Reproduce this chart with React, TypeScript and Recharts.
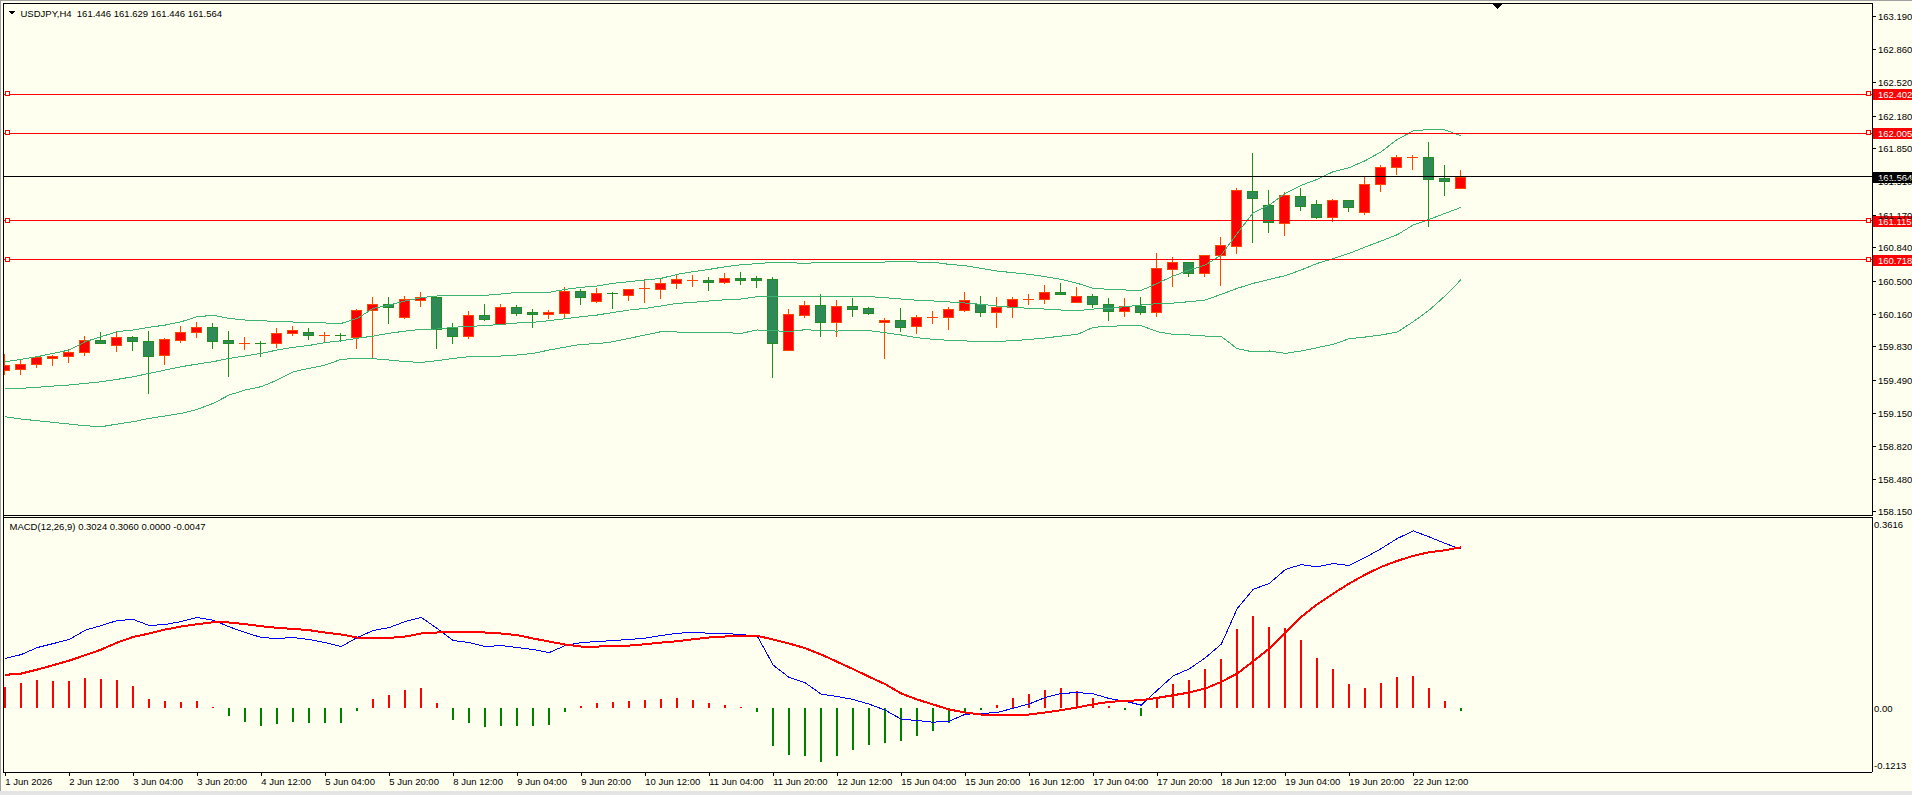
import React from 'react';
import { ComposedChart, Bar, Line, XAxis, YAxis, ReferenceLine, Cell } from 'recharts';

const FONT = '"Liberation Sans", Arial, sans-serif';
const BG = '#fffff0';

// USDJPY H4 bars, first bar = 1 Jun 2026 20:00
const opens = [
  159.595, 159.602, 159.653, 159.721, 159.734, 159.775, 159.901, 159.853, 159.931, 159.891,
  159.751, 159.904, 159.979, 160.033, 159.901, 159.867, 159.870, 159.867, 159.969, 159.982,
  159.945, 159.952, 159.935, 160.210, 160.267, 160.138, 160.311, 160.342, 160.020, 159.945,
  160.152, 160.060, 160.233, 160.186, 160.169, 160.179, 160.396, 160.301, 160.379, 160.362,
  160.417, 160.423, 160.478, 160.508, 160.508, 160.495, 160.529, 160.529, 160.518, 159.796,
  160.159, 160.254, 160.081, 160.247, 160.223, 160.087, 160.101, 160.040, 160.128, 160.131,
  160.210, 160.264, 160.189, 160.240, 160.311, 160.315, 160.386, 160.291, 160.345, 160.264,
  160.199, 160.244, 160.189, 160.620, 160.692, 160.586, 160.763, 160.861, 161.418, 161.272,
  161.096, 161.364, 161.282, 161.157, 161.323, 161.208, 161.486, 161.659, 161.757, 161.761,
  161.554, 161.446,
];
const highs = [
  159.758, 159.711, 159.738, 159.748, 159.806, 159.941, 159.982, 159.992, 159.945, 159.992,
  159.924, 160.043, 160.084, 160.074, 159.992, 159.928, 159.891, 160.023, 160.043, 160.023,
  159.982, 159.975, 160.220, 160.342, 160.342, 160.352, 160.390, 160.342, 160.077, 160.196,
  160.267, 160.267, 160.257, 160.216, 160.206, 160.440, 160.417, 160.430, 160.390, 160.417,
  160.522, 160.529, 160.559, 160.563, 160.542, 160.583, 160.593, 160.552, 160.542, 160.216,
  160.301, 160.369, 160.308, 160.328, 160.237, 160.125, 160.227, 160.155, 160.196, 160.237,
  160.389, 160.349, 160.339, 160.339, 160.369, 160.461, 160.485, 160.444, 160.369, 160.328,
  160.328, 160.339, 160.787, 160.746, 160.692, 160.763, 160.950, 161.445, 161.805, 161.428,
  161.408, 161.445, 161.326, 161.333, 161.323, 161.557, 161.683, 161.785, 161.785, 161.917,
  161.683, 161.629,
];
const lows = [
  159.555, 159.558, 159.629, 159.650, 159.680, 159.751, 159.874, 159.792, 159.799, 159.364,
  159.656, 159.884, 159.935, 159.819, 159.534, 159.809, 159.741, 159.833, 159.955, 159.911,
  159.880, 159.894, 159.819, 159.717, 160.077, 160.125, 160.250, 159.819, 159.870, 159.924,
  160.104, 160.060, 160.159, 160.037, 160.125, 160.135, 160.267, 160.291, 160.230, 160.308,
  160.288, 160.328, 160.430, 160.454, 160.410, 160.485, 160.474, 160.440, 159.527, 159.796,
  160.138, 159.941, 159.941, 160.145, 160.169, 159.717, 159.992, 159.972, 160.074, 160.016,
  160.196, 160.145, 160.036, 160.138, 160.271, 160.281, 160.372, 160.291, 160.240, 160.108,
  160.148, 160.169, 160.148, 160.451, 160.556, 160.556, 160.464, 160.790, 160.902, 161.004,
  160.973, 161.228, 161.146, 161.112, 161.218, 161.187, 161.421, 161.594, 161.642, 161.065,
  161.381, 161.446,
];
const closes = [
  159.646, 159.653, 159.728, 159.738, 159.779, 159.901, 159.874, 159.931, 159.887, 159.741,
  159.911, 159.982, 160.033, 159.894, 159.867, 159.870, 159.857, 159.972, 160.003, 159.948,
  159.948, 159.938, 160.203, 160.267, 160.233, 160.318, 160.335, 160.013, 159.945, 160.155,
  160.118, 160.233, 160.179, 160.169, 160.186, 160.396, 160.342, 160.376, 160.366, 160.417,
  160.427, 160.478, 160.518, 160.512, 160.495, 160.529, 160.515, 160.515, 159.874, 160.162,
  160.254, 160.081, 160.243, 160.220, 160.179, 160.104, 160.037, 160.132, 160.132, 160.213,
  160.305, 160.189, 160.240, 160.315, 160.315, 160.386, 160.372, 160.345, 160.264, 160.199,
  160.244, 160.189, 160.630, 160.692, 160.586, 160.763, 160.865, 161.425, 161.350, 161.099,
  161.374, 161.269, 161.157, 161.323, 161.258, 161.486, 161.659, 161.761, 161.761, 161.544,
  161.523, 161.564,
];

// Bollinger Bands (20)
const bbUpper = [
  159.680, 159.704, 159.731, 159.765, 159.799, 159.884, 159.935, 159.986, 160.003, 160.030,
  160.053, 160.087, 160.138, 160.152, 160.121, 160.104, 160.098, 160.087, 160.084, 160.077,
  160.074, 160.070, 160.121, 160.223, 160.257, 160.298, 160.332, 160.349, 160.352, 160.356,
  160.356, 160.369, 160.386, 160.386, 160.386, 160.417, 160.437, 160.451, 160.478, 160.495,
  160.512, 160.529, 160.569, 160.597, 160.620, 160.647, 160.668, 160.678, 160.692, 160.688,
  160.681, 160.692, 160.695, 160.695, 160.695, 160.695, 160.702, 160.695, 160.692, 160.671,
  160.658, 160.630, 160.603, 160.586, 160.569, 160.546, 160.518, 160.478, 160.427, 160.417,
  160.410, 160.406, 160.478, 160.552, 160.614, 160.664, 160.766, 160.987, 161.197, 161.275,
  161.394, 161.476, 161.537, 161.615, 161.656, 161.727, 161.818, 161.944, 162.029, 162.046,
  162.039, 161.978,
];
const bbMiddle = [
  159.402, 159.409, 159.419, 159.432, 159.443, 159.459, 159.476, 159.500, 159.527, 159.561,
  159.595, 159.629, 159.656, 159.680, 159.714, 159.738, 159.765, 159.799, 159.826, 159.846,
  159.874, 159.894, 159.918, 159.941, 159.969, 159.992, 160.009, 160.013, 160.030, 160.040,
  160.047, 160.060, 160.074, 160.081, 160.098, 160.118, 160.138, 160.155, 160.182, 160.206,
  160.223, 160.247, 160.274, 160.284, 160.298, 160.311, 160.318, 160.342, 160.342, 160.342,
  160.342, 160.342, 160.345, 160.345, 160.342, 160.332, 160.318, 160.305, 160.298, 160.288,
  160.277, 160.264, 160.247, 160.233, 160.223, 160.216, 160.206, 160.199, 160.216, 160.223,
  160.240, 160.257, 160.271, 160.277, 160.291, 160.308, 160.366, 160.427, 160.478, 160.518,
  160.556, 160.614, 160.681, 160.729, 160.783, 160.848, 160.909, 160.973, 161.072, 161.129,
  161.191, 161.252,
];
const bbLower = [
  159.120, 159.096, 159.079, 159.062, 159.045, 159.028, 159.018, 159.045, 159.069, 159.103,
  159.127, 159.154, 159.195, 159.256, 159.341, 159.392, 159.426, 159.493, 159.578, 159.612,
  159.646, 159.704, 159.714, 159.711, 159.697, 159.680, 159.673, 159.690, 159.714, 159.731,
  159.731, 159.738, 159.748, 159.765, 159.799, 159.829, 159.857, 159.863, 159.884, 159.918,
  159.952, 159.986, 159.982, 159.979, 159.979, 159.975, 159.969, 160.003, 159.996, 159.986,
  160.006, 159.996, 159.992, 159.999, 159.996, 159.975, 159.952, 159.924, 159.908, 159.897,
  159.891, 159.887, 159.887, 159.894, 159.907, 159.921, 159.941, 159.958, 160.030, 160.040,
  160.047, 160.047, 159.986, 159.958, 159.952, 159.941, 159.935, 159.812, 159.779, 159.789,
  159.765, 159.789, 159.823, 159.857, 159.914, 159.931, 159.952, 159.982, 160.087, 160.206,
  160.352, 160.518,
];

// MACD(12,26,9)
const macdMain = [
  0.0944, 0.1020, 0.1153, 0.1229, 0.1306, 0.1483, 0.1572, 0.1667, 0.1686, 0.1572,
  0.1591, 0.1648, 0.1724, 0.1673, 0.1546, 0.1439, 0.1344, 0.1325, 0.1344, 0.1306,
  0.1248, 0.1172, 0.1344, 0.1477, 0.1534, 0.1648, 0.1724, 0.1515, 0.1287, 0.1248,
  0.1172, 0.1191, 0.1153, 0.1115, 0.1058, 0.1191, 0.1248, 0.1267, 0.1287, 0.1306,
  0.1331, 0.1382, 0.1426, 0.1439, 0.1426, 0.1420, 0.1401, 0.1369, 0.0818, 0.0583,
  0.0482, 0.0266, 0.0222, 0.0165, 0.0076, -0.0038, -0.0209, -0.0235, -0.0266, -0.0247,
  -0.0114, -0.0101, -0.0082, 0.0000, 0.0082, 0.0203, 0.0279, 0.0298, 0.0272, 0.0184,
  0.0133, 0.0057, 0.0342, 0.0615, 0.0748, 0.0957, 0.1217, 0.1895, 0.2262, 0.2370,
  0.2636, 0.2731, 0.2687, 0.2750, 0.2712, 0.2864, 0.3035, 0.3226, 0.3371, 0.3257,
  0.3131, 0.3024,
];
const macdSignal = [
  0.0634, 0.0659, 0.0735, 0.0818, 0.0906, 0.1008, 0.1115, 0.1248, 0.1356, 0.1420,
  0.1496, 0.1553, 0.1597, 0.1635, 0.1629, 0.1597, 0.1559, 0.1527, 0.1508, 0.1483,
  0.1439, 0.1401, 0.1344, 0.1331, 0.1337, 0.1363, 0.1420, 0.1439, 0.1445, 0.1445,
  0.1439, 0.1420, 0.1388, 0.1325, 0.1267, 0.1210, 0.1172, 0.1172, 0.1179, 0.1191,
  0.1217, 0.1248, 0.1274, 0.1312, 0.1344, 0.1363, 0.1382, 0.1375, 0.1306, 0.1229,
  0.1141, 0.1020, 0.0881, 0.0742, 0.0596, 0.0456, 0.0279, 0.0165, 0.0070, -0.0025,
  -0.0082, -0.0120, -0.0127, -0.0127, -0.0120, -0.0082, -0.0038, 0.0013, 0.0076, 0.0120,
  0.0139, 0.0152, 0.0196, 0.0247, 0.0298, 0.0374, 0.0501, 0.0659, 0.0894, 0.1134,
  0.1439, 0.1736, 0.1977, 0.2180, 0.2370, 0.2541, 0.2687, 0.2801, 0.2896, 0.2966,
  0.3004, 0.3060,
];
const macdHist = [
  0.0412, 0.0488, 0.0545, 0.0526, 0.0526, 0.0583, 0.0564, 0.0545, 0.0431, 0.0184,
  0.0146, 0.0127, 0.0146, 0.0019, -0.0139, -0.0253, -0.0330, -0.0292, -0.0253, -0.0272,
  -0.0272, -0.0272, -0.0044, 0.0184, 0.0260, 0.0355, 0.0393, 0.0108, -0.0215, -0.0272,
  -0.0361, -0.0330, -0.0330, -0.0330, -0.0311, -0.0063, 0.0051, 0.0108, 0.0127, 0.0146,
  0.0165, 0.0184, 0.0203, 0.0165, 0.0108, 0.0070, 0.0032, -0.0063, -0.0710, -0.0881,
  -0.0900, -0.1014, -0.0900, -0.0786, -0.0691, -0.0653, -0.0615, -0.0520, -0.0437, -0.0272,
  -0.0076, -0.0038, 0.0070, 0.0203, 0.0279, 0.0355, 0.0393, 0.0336, 0.0203, 0.0051,
  -0.0038, -0.0152, 0.0203, 0.0469, 0.0545, 0.0754, 0.0944, 0.1515, 0.1762, 0.1553,
  0.1534, 0.1305, 0.0963, 0.0754, 0.0469, 0.0393, 0.0488, 0.0602, 0.0621, 0.0393,
  0.0146, -0.0047,
];

const timeLabels = [
  '1 Jun 2026', '2 Jun 12:00', '3 Jun 04:00', '3 Jun 20:00', '4 Jun 12:00', '5 Jun 04:00',
  '5 Jun 20:00', '8 Jun 12:00', '9 Jun 04:00', '9 Jun 20:00', '10 Jun 12:00', '11 Jun 04:00',
  '11 Jun 20:00', '12 Jun 12:00', '15 Jun 04:00', '15 Jun 20:00', '16 Jun 12:00', '17 Jun 04:00',
  '17 Jun 20:00', '18 Jun 12:00', '19 Jun 04:00', '19 Jun 20:00', '22 Jun 12:00',
];
const BARS_PER_LABEL = 4;

const priceTicks = [
  163.19, 162.86, 162.52, 162.18, 161.85, 161.51, 161.17, 160.84,
  160.5, 160.16, 159.83, 159.49, 159.15, 158.82, 158.48, 158.15,
];
const priceDomain = [158.119, 163.322];
const macdTicks = [0.3616, 0, -0.1213];
const macdTickText = ['0.3616', '0.00', '-0.1213'];
const macdDomain = [-0.1213, 0.3616];

const levelLines = [162.402, 162.005, 161.115, 160.718];
const bidPrice = 161.564;
const titleText = 'USDJPY,H4  161.446 161.629 161.446 161.564';
const macdTitle = 'MACD(12,26,9) 0.3024 0.3060 0.0000 -0.0047';

// visible index range (left edge .. right edge incl. chart shift)
const xDomain = [-0.081, 116.67];

const priceRows = opens.map((o, i) => ({
  i, o, h: highs[i], l: lows[i], c: closes[i],
  bbU: bbUpper[i], bbM: bbMiddle[i], bbL: bbLower[i],
}));
const macdRows = macdMain.map((m, i) => ({ i, main: m, sig: macdSignal[i], hist: macdHist[i] }));
const timeTickIdx = timeLabels.map((_, k) => k * BARS_PER_LABEL);

const UP_FILL = '#ff0000';
const UP_LINE = '#ff4500';
const DN_FILL = '#2e8b57';
const DN_LINE = '#228b22';
const BAND = '#3cb371';

function Candle(props: any) {
  const { x, y, width, height, payload } = props;
  if (!payload || !Number.isFinite(y) || !Number.isFinite(height)) return null;
  const top = Math.min(y, y + height);
  const span = Math.abs(height);
  const { o, h, l, c } = payload;
  const toY = (v: number) => (h === l ? top : top + ((h - v) / (h - l)) * span);
  const px = Math.floor(x + width / 2);
  const cx = px + 0.5;
  const bull = c >= o;
  const edge = bull ? UP_LINE : DN_LINE;
  const fill = bull ? UP_FILL : DN_FILL;
  const yo = toY(o);
  const yc = toY(c);
  const bTop = Math.round(Math.min(yo, yc));
  const bBot = Math.round(Math.max(yo, yc));
  return (
    <g>
      <line x1={cx} x2={cx} y1={Math.round(top)} y2={Math.round(top + span) + 1} stroke={edge} strokeWidth={1} />
      {bBot - bTop < 2 ? (
        <line x1={px - 5} x2={px + 6} y1={bTop + 0.5} y2={bTop + 0.5} stroke={edge} strokeWidth={1} />
      ) : (
        <rect x={px - 4.5} y={bTop + 0.5} width={10} height={bBot - bTop} fill={fill} stroke={edge} strokeWidth={1} />
      )}
    </g>
  );
}

const PriceTick = (props: any) => {
  const { x, y, payload } = props;
  return (
    <text x={x} y={y} dy="0.36em" fontSize={9.5} fontFamily={FONT} fill="#000" textAnchor="start">
      {Number(payload.value).toFixed(3)}
    </text>
  );
};

const MacdTick = (props: any) => {
  const { x, y, payload, index } = props;
  const shift = index === 0 ? 7 : index === macdTicks.length - 1 ? -6 : 0;
  return (
    <text x={x - 4} y={y + shift} dy="0.36em" fontSize={9.5} fontFamily={FONT} fill="#000" textAnchor="start">
      {macdTickText[index]}
    </text>
  );
};

const TimeTick = (props: any) => {
  const { x, y, payload } = props;
  const k = timeTickIdx.indexOf(payload.value);
  return (
    <text x={x} y={y} dy="0.71em" fontSize={9.5} fontFamily={FONT} fill="#000" textAnchor="start">
      {timeLabels[k]}
    </text>
  );
};

const levelTag = (value: number, bg: string, markers: boolean) => (props: any) => {
  const vb = props.viewBox || {};
  if (!Number.isFinite(vb.y)) return null;
  const yy = Math.round(vb.y);
  const right = vb.x + vb.width;
  return (
    <g>
      {markers && (
        <rect x={vb.x + 1.5} y={yy - 2.5} width={4} height={4} fill={BG} stroke="#ff0000" strokeWidth={1} />
      )}
      {markers && (
        <rect x={right - 5.5} y={yy - 2.5} width={4} height={4} fill={BG} stroke="#ff0000" strokeWidth={1} />
      )}
      <rect x={right + 1} y={yy - 5} width={40} height={11} fill={bg} />
      <text x={right + 6} y={yy + 0.5} dy="0.36em" fontSize={9.5} fontFamily={FONT} fill="#ffffff">
        {value.toFixed(3)}
      </text>
    </g>
  );
};

const hLine = (left: number, top: number, width: number, color = '#000'): React.CSSProperties => ({
  position: 'absolute', left, top, width, height: 1, background: color,
});

export default function App() {
  return (
    <div
      style={{
        position: 'absolute', left: 0, top: 0, width: 1912, height: 795, overflow: 'hidden',
        background: BG, fontFamily: FONT, shapeRendering: 'crispEdges' as any,
      }}
    >
      <div style={{ position: 'absolute', left: 0, top: 0 }}>
        <ComposedChart width={1912} height={520} data={priceRows} margin={{ top: 4, right: 0, bottom: 5, left: 4 }}>
          <XAxis type="number" dataKey="i" domain={xDomain} hide allowDataOverflow />
          <YAxis
            orientation="right"
            type="number"
            domain={priceDomain}
            allowDataOverflow
            ticks={priceTicks}
            interval={0}
            width={40}
            tickSize={4}
            tickMargin={2}
            axisLine={{ stroke: '#000' }}
            tickLine={{ stroke: '#000' }}
            tick={PriceTick}
          />
          <Line type="linear" dataKey="bbU" stroke={BAND} strokeWidth={1} dot={false} activeDot={false} isAnimationActive={false} />
          <Line type="linear" dataKey="bbM" stroke={BAND} strokeWidth={1} dot={false} activeDot={false} isAnimationActive={false} />
          <Line type="linear" dataKey="bbL" stroke={BAND} strokeWidth={1} dot={false} activeDot={false} isAnimationActive={false} />
          <Bar dataKey={(d: any) => [d.l, d.h]} barSize={11} shape={Candle} isAnimationActive={false} />
          {levelLines.map((v) => (
            <ReferenceLine key={v} y={v} stroke="#ff0000" strokeWidth={1} label={levelTag(v, '#ff0000', true)} />
          ))}
          <ReferenceLine y={bidPrice} stroke="#000" strokeWidth={1} label={levelTag(bidPrice, '#000000', false)} />
        </ComposedChart>
      </div>

      <div style={{ position: 'absolute', left: 0, top: 500 }}>
        <ComposedChart width={1912} height={295} data={macdRows} margin={{ top: 18, right: 0, bottom: 0, left: 4 }}>
          <XAxis
            type="number"
            dataKey="i"
            domain={xDomain}
            allowDataOverflow
            ticks={timeTickIdx}
            interval={0}
            height={23}
            tickSize={4}
            tickMargin={2}
            axisLine={{ stroke: '#000' }}
            tickLine={{ stroke: '#000' }}
            tick={TimeTick}
          />
          <YAxis
            orientation="right"
            type="number"
            domain={macdDomain}
            allowDataOverflow
            ticks={macdTicks}
            interval={0}
            width={40}
            tickSize={4}
            tickMargin={2}
            axisLine={{ stroke: '#000' }}
            tickLine={false}
            tick={MacdTick}
          />
          <Bar dataKey="hist" barSize={2} isAnimationActive={false}>
            {macdRows.map((r) => (
              <Cell key={r.i} fill={r.hist >= 0 ? '#ff0000' : '#008000'} />
            ))}
          </Bar>
          <Line type="linear" dataKey="main" stroke="#0000ff" strokeWidth={1} dot={false} activeDot={false} isAnimationActive={false} />
          <Line type="linear" dataKey="sig" stroke="#ff0000" strokeWidth={2} dot={false} activeDot={false} isAnimationActive={false} />
        </ComposedChart>
      </div>

      {/* window frame */}
      <div style={hLine(0, 0, 1912, '#a0a0a0')} />
      <div style={{ position: 'absolute', left: 0, top: 0, width: 1, height: 795, background: '#a0a0a0' }} />
      <div style={hLine(3, 3, 1870)} />
      <div style={{ position: 'absolute', left: 3, top: 3, width: 1, height: 770, background: '#000' }} />
      <div style={hLine(3, 515, 1870)} />
      <div style={hLine(3, 517, 1870)} />
      <div style={{ position: 'absolute', left: 0, top: 791, width: 1912, height: 4, background: '#e4e4e4' }} />

      <svg style={{ position: 'absolute', left: 0, top: 0 }} width={1912} height={795} pointerEvents="none">
        <polygon points="9,11 15,11 12,14.5" fill="#000" />
        <text x={20.5} y={16.5} fontSize={9.5} fontFamily={FONT} fill="#000" style={{ whiteSpace: 'pre' }}>
          {titleText}
        </text>
        <text x={9.5} y={529.5} fontSize={9.5} fontFamily={FONT} fill="#000" style={{ whiteSpace: 'pre' }}>
          {macdTitle}
        </text>
        <polygon points="1492,4 1502,4 1497,9" fill="#000" />
      </svg>
    </div>
  );
}
